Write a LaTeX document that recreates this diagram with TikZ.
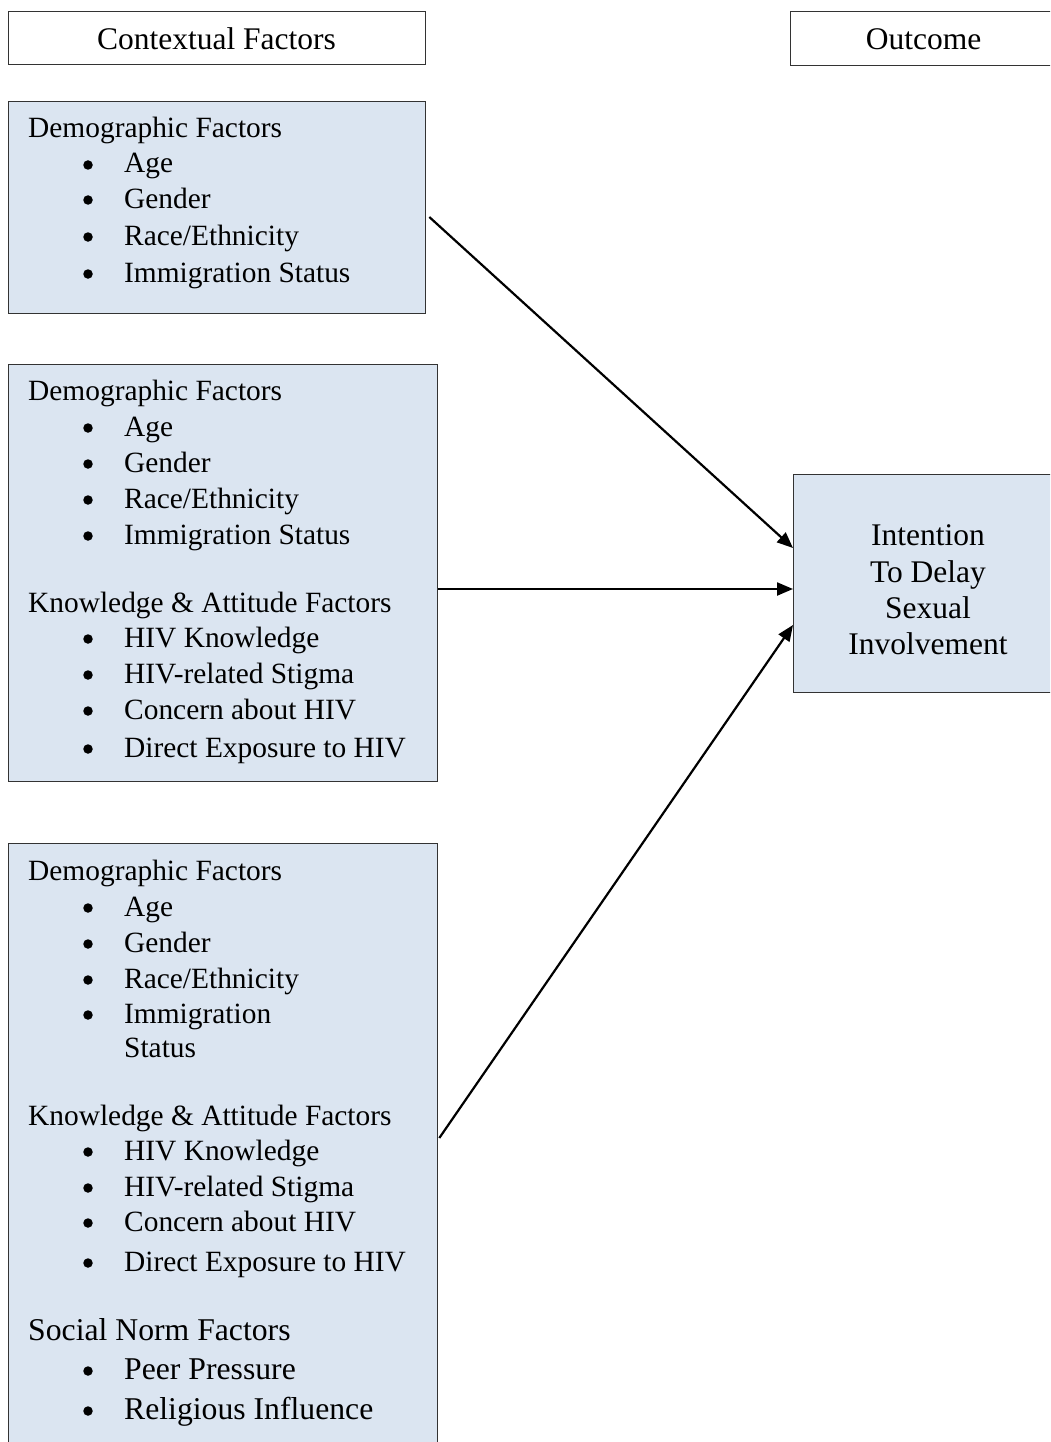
\documentclass[tikz,border=0pt]{standalone}
\usepackage{fontspec}
\setmainfont{Liberation Serif}
\usetikzlibrary{arrows.meta}
\definecolor{boxfill}{HTML}{DBE5F1}
\definecolor{edgecol}{HTML}{333333}
\newcommand\Hd[3]{\node[txt] (#1) at (28,#2) {#3};}
\newcommand\It[3]{\node[bul] (#1d) at (88,#2-8) {}; \node[txt] (#1) at (124,#2) {#3};}
\newcommand\Ct[3]{\node[ctxt] (#1) at (928,#2) {#3};}
\tikzset{
  every node/.style={font=\fontsize{31.5}{36}\selectfont},
  txt/.style={anchor=base west, inner sep=0pt, font=\fontsize{29.4}{34}\selectfont},
  bigtxt/.style={txt/.append style={font=\fontsize{31.7}{36}\selectfont}},
  ctxt/.style={anchor=base, inner sep=0pt},
  bul/.style={circle, fill=black, inner sep=0pt, minimum size=9.5pt},
  hbox/.style={draw=edgecol, line width=1.3pt, fill=white, anchor=north west, inner sep=0pt},
  fbox/.style={draw=edgecol, line width=1.3pt, fill=boxfill, anchor=north west, inner sep=0pt},
  arr/.style={line width=2.2pt, -{Triangle[length=16pt,width=13pt]}},
}
\begin{document}
\begin{tikzpicture}[x=1pt, y=-1pt]
\useasboundingbox (0,0) rectangle (1050,1442);
\clip (0,0) rectangle (1050,1442);
% headers
\node[hbox, minimum width=417pt, minimum height=53pt] (hc) at (8,11) {};
\node[ctxt] (hct) at (216.5,50) {Contextual Factors};
\node[hbox, minimum width=270pt, minimum height=54pt] (ho) at (790,11) {};
\node[ctxt] (hot) at (923.5,50) {Outcome};
% boxes
\node[fbox, minimum width=417pt, minimum height=212pt] (b1) at (8,101) {};
\node[fbox, minimum width=429pt, minimum height=417pt] (b2) at (8,364) {};
\node[fbox, minimum width=429pt, minimum height=640pt] (b3) at (8,843) {};
\node[fbox, minimum width=270pt, minimum height=218pt] (out) at (793,474) {};
% box 1
\Hd{a0}{138}{Demographic Factors}
\It{a1}{173}{Age}
\It{a2}{208}{Gender}
\It{a3}{245}{Race/Ethnicity}
\It{a4}{282}{Immigration Status}
% box 2
\Hd{b0}{400}{Demographic Factors}
\It{bb1}{436}{Age}
\It{bb2}{472}{Gender}
\It{bb3}{508}{Race/Ethnicity}
\It{bb4}{544}{Immigration Status}
\Hd{bk}{612}{Knowledge \& Attitude Factors}
\It{bb5}{647}{HIV Knowledge}
\It{bb6}{683}{HIV-related Stigma}
\It{bb7}{719}{Concern about HIV}
\It{bb8}{757}{Direct Exposure to HIV}
% box 3
\Hd{c0}{880}{Demographic Factors}
\It{c1}{916}{Age}
\It{c2}{952}{Gender}
\It{c3}{988}{Race/Ethnicity}
\It{c4}{1023}{Immigration}
\node[txt] (c4b) at (124,1057) {Status};
\Hd{ck}{1125}{Knowledge \& Attitude Factors}
\It{c5}{1160}{HIV Knowledge}
\It{c6}{1196}{HIV-related Stigma}
\It{c7}{1231}{Concern about HIV}
\It{c8}{1271}{Direct Exposure to HIV}
\begin{scope}[bigtxt]
\Hd{cs}{1340}{Social Norm Factors}
\It{c9}{1379}{Peer Pressure}
\It{c10}{1419}{Religious Influence}
\end{scope}
% outcome text
\Ct{o1}{545}{Intention}
\Ct{o2}{582}{To Delay}
\Ct{o3}{618}{Sexual}
\Ct{o4}{654}{Involvement}
% arrows
\draw[arr] ([xshift=3pt,yshift=-116pt]b1.north east) -- ([yshift=-74pt]out.north west);
\draw[arr] ([yshift=-225pt]b2.north east) -- ([yshift=-115pt]out.north west);
\draw[arr] ([xshift=1pt,yshift=-295pt]b3.north east) -- ([yshift=-151pt]out.north west);
\end{tikzpicture}
\end{document}
